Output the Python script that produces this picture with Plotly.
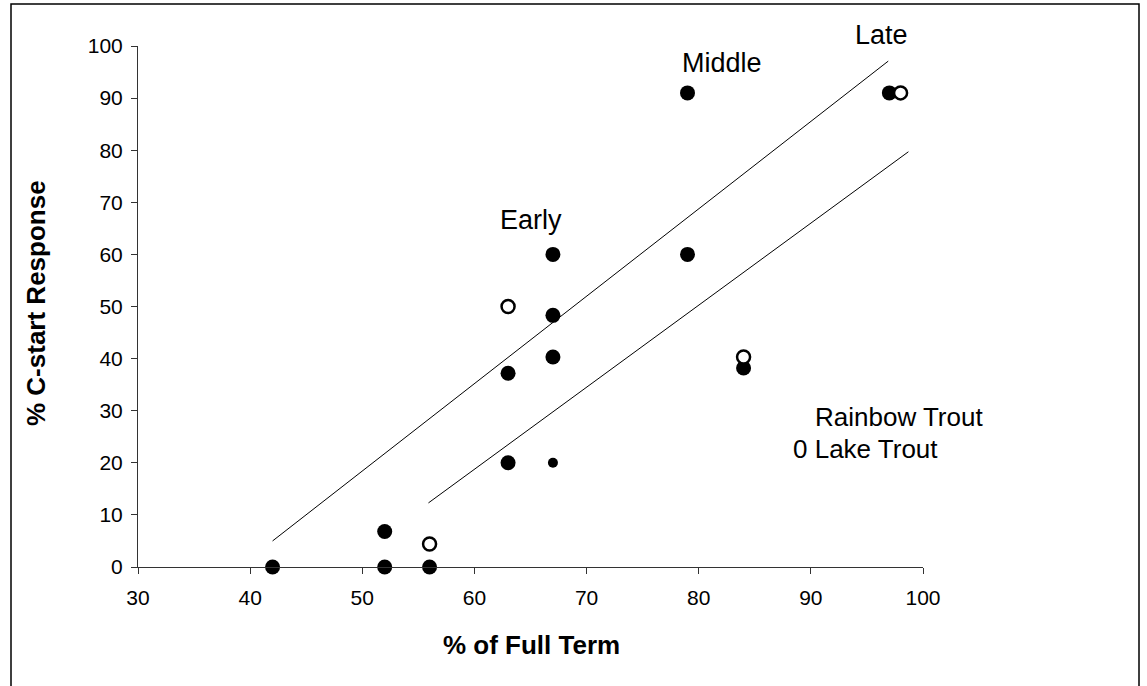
import plotly.graph_objects as go

# Rainbow trout (filled markers)
rainbow_x = [42, 52, 52, 56, 63, 63, 67, 67, 67, 79, 79, 84, 97]
rainbow_y = [0, 0, 6.8, 0, 37.2, 20, 60, 48.3, 40.3, 91, 60, 38.2, 91]

# Small-dot observation
small_x = [67]
small_y = [20]

# Lake trout (open markers)
lake_x = [56, 63, 84, 98]
lake_y = [4.4, 50, 40.3, 91]

# Fitted trend lines (endpoints)
upper_line_x = [42, 96.9]
upper_line_y = [5.0, 97.1]
lower_line_x = [55.9, 98.7]
lower_line_y = [12.3, 79.7]

# Developmental stage labels
stage_names = ["Early", "Middle", "Late"]
stage_x = [65.0, 82.1, 96.3]
stage_y = [66.6, 96.7, 102.1]

Y_MIN, Y_MAX = 0, 100

W, H = 1147, 686
L, R, T, B = 138, 224, 46, 119
pw, ph = W - L - R, H - T - B

def px_x(p):
    return (p - L) / pw

def px_y(p):
    return (H - B - p) / ph

FONT = "Liberation Sans, Arial, sans-serif"

fig = go.Figure()

for lx, ly in ((upper_line_x, upper_line_y), (lower_line_x, lower_line_y)):
    fig.add_trace(go.Scatter(x=lx, y=ly, mode="lines",
                             line=dict(color="black", width=1),
                             hoverinfo="skip", showlegend=False))

fig.add_trace(go.Scatter(x=rainbow_x, y=rainbow_y, mode="markers",
                         marker=dict(size=15, color="black",
                                     line=dict(width=0)),
                         showlegend=False, cliponaxis=False))
fig.add_trace(go.Scatter(x=small_x, y=small_y, mode="markers",
                         marker=dict(size=10, color="black",
                                     line=dict(width=0)),
                         showlegend=False, cliponaxis=False))
fig.add_trace(go.Scatter(x=lake_x, y=lake_y, mode="markers",
                         marker=dict(size=13, color="white",
                                     line=dict(width=2.5, color="black")),
                         showlegend=False, cliponaxis=False))

annotations = []
# stage labels: x in data units, y mapped onto the paper so "Late" can sit above 100
for name, sx, sy in zip(stage_names, stage_x, stage_y):
    annotations.append(dict(x=sx, y=(sy - Y_MIN) / (Y_MAX - Y_MIN),
                            xref="x", yref="paper",
                            text=name, showarrow=False,
                            font=dict(size=27, color="black", family=FONT),
                            xanchor="center", yanchor="middle"))
annotations.append(dict(x=px_x(813), y=px_y(417), xref="paper", yref="paper",
                        text="Rainbow Trout", showarrow=False,
                        xanchor="left", yanchor="middle",
                        font=dict(size=26, color="black", family=FONT)))
annotations.append(dict(x=px_x(791), y=px_y(449), xref="paper", yref="paper",
                        text="0 Lake Trout", showarrow=False,
                        xanchor="left", yanchor="middle",
                        font=dict(size=26, color="black", family=FONT)))
annotations.append(dict(x=px_x(36), y=px_y(303), xref="paper", yref="paper",
                        text="<b>% C-start Response</b>", showarrow=False,
                        textangle=-90, xanchor="center", yanchor="middle",
                        font=dict(size=26, color="black", family=FONT)))
annotations.append(dict(x=px_x(531), y=px_y(645), xref="paper", yref="paper",
                        text="<b>% of Full Term</b>", showarrow=False,
                        xanchor="center", yanchor="middle",
                        font=dict(size=26, color="black", family=FONT)))

fig.update_layout(
    width=W, height=H, autosize=False,
    margin=dict(l=L, r=R, t=T, b=B, pad=0),
    paper_bgcolor="white", plot_bgcolor="white",
    annotations=annotations,
    shapes=[dict(type="rect", xref="paper", yref="paper",
                 x0=px_x(11), x1=px_x(1139), y0=px_y(700), y1=px_y(4),
                 line=dict(color="black", width=1.5), layer="below")],
    xaxis=dict(range=[30, 100], tickvals=list(range(30, 101, 10)),
               showgrid=False, zeroline=False, showline=True,
               linecolor="#333", linewidth=1, ticks="outside",
               ticklen=6, tickcolor="#333", ticklabelstandoff=6,
               tickfont=dict(size=21, color="black", family=FONT)),
    yaxis=dict(range=[Y_MIN, Y_MAX], tickvals=list(range(0, 101, 10)),
               showgrid=False, zeroline=False, showline=True,
               linecolor="#333", linewidth=1, ticks="outside",
               ticklen=6, tickcolor="#333", ticklabelstandoff=4,
               tickfont=dict(size=21, color="black", family=FONT)),
    font=dict(family=FONT, color="black"),
)

fig.write_html("out.html")
